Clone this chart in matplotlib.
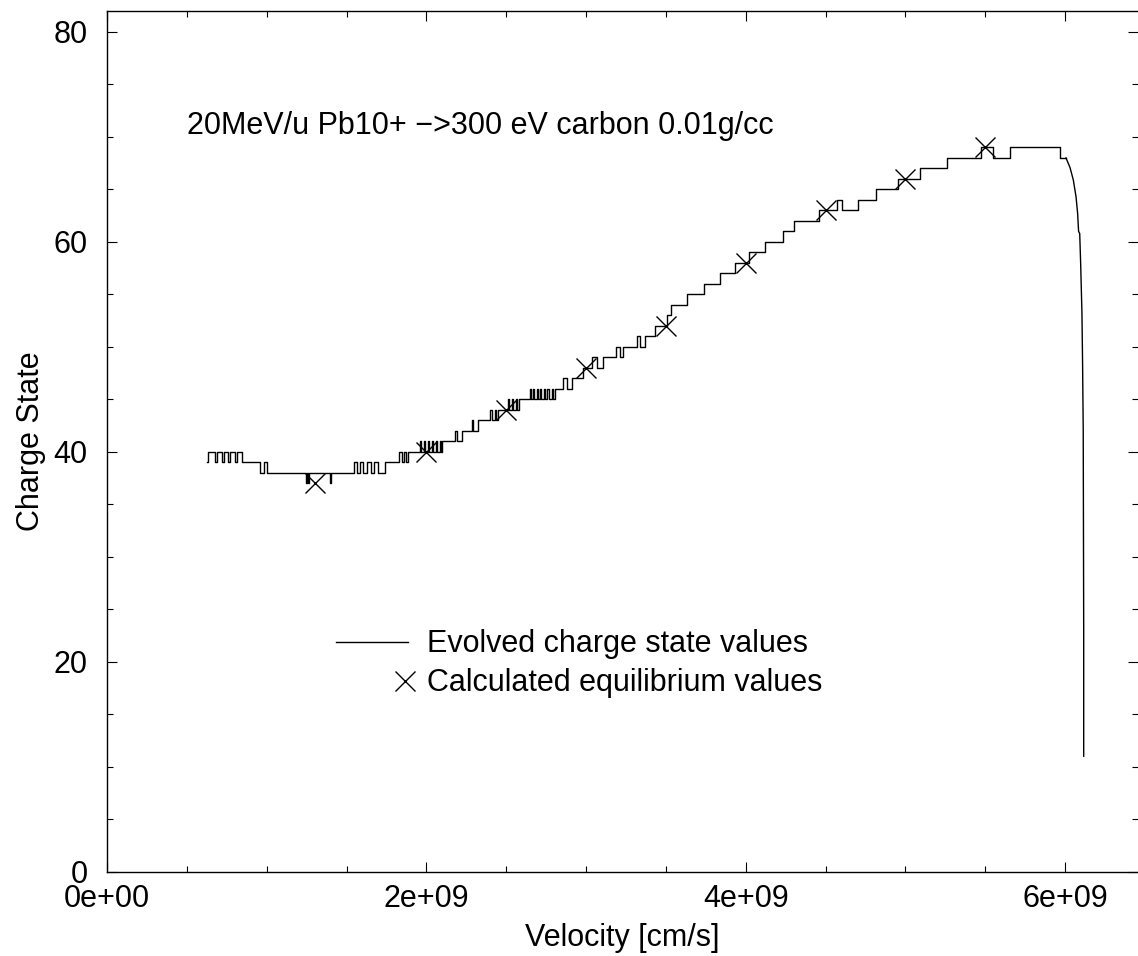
import numpy as np
import matplotlib
matplotlib.use("Agg")
import matplotlib.pyplot as plt
from matplotlib.lines import Line2D
from matplotlib.legend_handler import HandlerLine2DCompound
from matplotlib.ticker import MultipleLocator, FixedLocator, FixedFormatter

plt.rcParams['font.family'] = ['Liberation Sans', 'DejaVu Sans']

# evolved charge state: step changes (velocity in 1e9 cm/s, charge state)
step_v = [0.626, 0.632, 0.676, 0.690, 0.718, 0.732, 0.758, 0.772, 0.800, 0.812,
          0.843, 0.958, 0.985, 1.004, 1.245, 1.252, 1.258, 1.264, 1.394, 1.401,
          1.547, 1.563, 1.584, 1.605, 1.626, 1.651, 1.672, 1.695, 1.741,
          1.830, 1.845, 1.858, 1.872, 1.885,
          1.960, 1.968, 1.985, 1.992, 2.010, 2.016, 2.035, 2.042, 2.060, 2.066,
          2.085, 2.092, 2.100,
          2.179, 2.190, 2.221, 2.284, 2.294, 2.325,
          2.398, 2.409, 2.430, 2.438, 2.446,
          2.513, 2.520, 2.535, 2.545, 2.560, 2.568, 2.580,
          2.649, 2.656, 2.668, 2.676, 2.690, 2.696, 2.712, 2.720, 2.735, 2.741,
          2.758, 2.766, 2.785, 2.795, 2.805,
          2.857, 2.878, 2.910, 2.983, 3.035, 3.066,
          3.104, 3.187, 3.212, 3.233, 3.321, 3.338, 3.369,
          3.431, 3.505, 3.532, 3.634, 3.736, 3.838, 3.932, 4.022, 4.120,
          4.231, 4.300, 4.456, 4.573, 4.605, 4.705, 4.815, 4.955, 5.091,
          5.258, 5.470, 5.545, 5.654, 5.967, 6.005]
step_q = [39, 40, 39, 40, 39, 40, 39, 40, 39, 40,
          39, 38, 39, 38, 37, 38, 37, 38, 37, 38,
          39, 38, 39, 38, 39, 38, 39, 38, 39,
          40, 39, 40, 39, 40,
          41, 40, 41, 40, 41, 40, 41, 40, 41, 40,
          41, 40, 41,
          42, 41, 42, 43, 42, 43,
          44, 43, 44, 43, 44,
          45, 44, 45, 44, 45, 44, 45,
          46, 45, 46, 45, 46, 45, 46, 45, 46, 45,
          46, 45, 46, 45, 46,
          47, 46, 47, 48, 49, 48,
          49, 50, 49, 50, 51, 50, 51,
          52, 53, 54, 55, 56, 57, 58, 59, 60,
          61, 62, 63, 64, 63, 64, 65, 66, 67,
          68, 69, 68, 69, 68, 68]

# fast ionisation at the start of the run (high velocity end)
tail_v = [6.005, 6.030, 6.051, 6.068, 6.078, 6.084, 6.091, 6.097, 6.105,
          6.109, 6.113, 6.116, 6.116]
tail_q = [68, 67.1, 65.9, 64.3, 62.7, 61.0, 60.8, 57.9, 53.2, 48.4, 42.1, 23.0, 11]

# calculated equilibrium values
eq_v = [1.3, 2.0, 2.5, 3.0, 3.5, 4.0, 4.5, 5.0, 5.5]
eq_q = [37, 40, 44, 48, 52, 58, 63, 66, 69]

x_ticks = [0, 2e9, 4e9, 6e9]
x_tick_labels = ['0e+00', '2e+09', '4e+09', '6e+09']

FS = 22


class EndMarkerHandler(HandlerLine2DCompound):
    # marker sits at the right end of the key sample, like gnuplot
    def get_xdata(self, legend, xdescent, ydescent, width, height, fontsize):
        xdata = np.array([-xdescent, -xdescent + width])
        xmark = np.array([-xdescent + width - 2.0])
        return xdata, xmark


fig = plt.figure(figsize=(11.38, 9.56), dpi=100)
ax = fig.add_axes([107 / 1138, (956 - 871.7) / 956, 1 - 107 / 1138, (871.7 - 11) / 956])

sv = np.array(step_v) * 1e9
tv = np.array(tail_v) * 1e9
ev = np.array(eq_v) * 1e9

ax.step(sv, step_q, where='post', color='black', lw=1.0)
ax.plot(tv, tail_q, color='black', lw=1.0)
ax.plot(ev, eq_q, linestyle='none', marker='x', ms=14, mew=1.0, color='black')

ax.set_xlim(0, 6.456e9)
ax.set_ylim(0, 82)

ax.xaxis.set_major_locator(FixedLocator(x_ticks))
ax.xaxis.set_major_formatter(FixedFormatter(x_tick_labels))
ax.xaxis.set_minor_locator(MultipleLocator(0.5e9))
ax.yaxis.set_major_locator(MultipleLocator(20))
ax.yaxis.set_minor_locator(MultipleLocator(5))

ax.tick_params(which='both', direction='in', top=True, right=True, width=0.8, colors='black')
ax.tick_params(which='major', length=7.5, labelsize=FS)
ax.tick_params(which='minor', length=4)
ax.tick_params(axis='x', which='major', pad=9)
ax.tick_params(axis='y', which='major', pad=14)
ax.spines['right'].set_visible(False)
for s in ['left', 'bottom', 'top']:
    ax.spines[s].set_linewidth(1.0)

ax.set_xlabel('Velocity [cm/s]', fontsize=FS, labelpad=6)
ax.set_ylabel('Charge State', fontsize=FS, labelpad=5)

ax.text(0.5e9, 71, '20MeV/u Pb10+ \u2212>300 eV carbon 0.01g/cc', fontsize=FS, va='center', ha='left')

h_line = Line2D([], [], color='black', lw=1.0)
h_mark = Line2D([], [], linestyle='none', marker='x', ms=14, mew=1.0, color='black')
ax.legend([h_line, h_mark], ['Evolved charge state values', 'Calculated equilibrium values'],
          handler_map={h_mark: EndMarkerHandler()},
          loc='center left', bbox_to_anchor=(0.222, 0.2415), frameon=False, fontsize=FS,
          handlelength=2.35, handletextpad=0.62, labelspacing=0.3, borderpad=0, borderaxespad=0)

fig.savefig('out.png', dpi=100)
